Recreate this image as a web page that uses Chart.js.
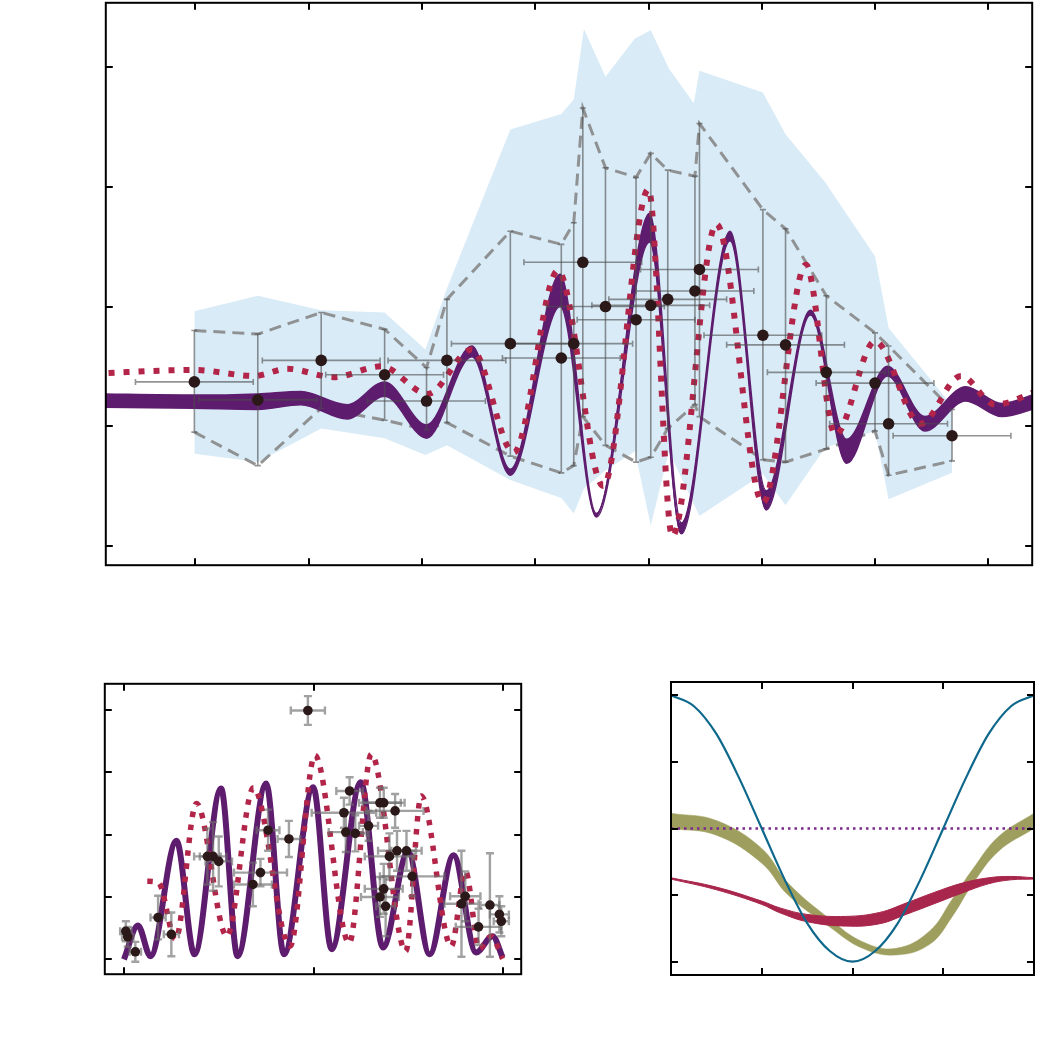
<!DOCTYPE html>
<html>
<head>
<meta charset="utf-8">
<script src="https://cdn.jsdelivr.net/npm/chart.js@4.4.1/dist/chart.umd.min.js"></script>
<style>
body { margin: 0; background: #fff; width: 1043px; height: 1062px; position: relative; overflow: hidden; }
canvas { position: absolute; }
</style>
</head>
<body>
<canvas id="topChart" width="938" height="574" style="left:100px;top:-3px"></canvas>
<canvas id="leftChart" width="426" height="300" style="left:100px;top:679px"></canvas>
<canvas id="rightChart" width="371" height="301" style="left:667px;top:678px"></canvas>
<script>
// ---------- top panel ----------
const topXTicks = [1, 2, 3, 4, 5, 6, 7, 8];
const topYTicks = [0, 1, 2, 3, 4];

// measured points, their x error and the lower/upper ends of the vertical bars
const obsX  = [0.99, 1.55, 2.11, 2.67, 3.04, 3.22, 3.78, 4.23, 4.34, 4.42, 4.62, 4.89, 5.02, 5.17, 5.41, 5.45, 6.01, 6.21, 6.57, 7.00, 7.12, 7.68];
const obsY  = [1.37, 1.22, 1.55, 1.43, 1.21, 1.55, 1.69, 1.57, 1.69, 2.37, 2.00, 1.89, 2.01, 2.06, 2.13, 2.31, 1.76, 1.68, 1.45, 1.36, 1.02, 0.92];
const obsHi = [1.80, 1.77, 1.95, 1.81, 1.49, 2.06, 2.63, 2.52, 2.70, 3.66, 3.16, 3.08, 3.28, 3.14, 3.09, 3.53, 2.81, 2.65, 2.09, 1.78, 1.67, 1.14];
const obsLo = [0.95, 0.67, 1.15, 1.05, 0.97, 1.03, 0.75, 0.61, 0.67, 1.08, 0.84, 0.70, 0.74, 0.98, 1.18, 1.08, 0.72, 0.70, 0.81, 0.96, 0.59, 0.71];
const obsXErr = 0.52;

// light blue envelope
const bandX  = [0.99, 1.55, 2.11, 2.67, 3.03, 3.22, 3.78, 4.23, 4.34, 4.43, 4.62, 4.88, 5.02, 5.18, 5.40, 5.45, 6.01, 6.21, 6.56, 7.00, 7.12, 7.68];
const bandHi = [1.96, 2.09, 1.97, 1.95, 1.64, 2.15, 3.48, 3.61, 3.73, 4.32, 3.92, 4.24, 4.31, 3.99, 3.70, 3.97, 3.79, 3.44, 3.04, 2.42, 1.82, 1.17];
const bandLo = [0.77, 0.70, 0.98, 0.90, 0.76, 0.84, 0.55, 0.40, 0.27, 0.48, 0.63, 0.79, 0.17, 0.79, 0.35, 0.25, 0.60, 0.34, 0.82, 0.96, 0.39, 0.61];

// purple model band
const fitX  = [0.10, 0.99, 1.55, 1.93, 2.34, 2.67, 3.04, 3.44, 3.78, 4.22, 4.54, 5.01, 5.29, 5.72, 6.04, 6.43, 6.75, 7.11, 7.44, 7.80, 8.12, 8.45];
const fitHi = [1.27, 1.26, 1.27, 1.29, 1.18, 1.37, 1.01, 1.67, 0.64, 2.27, 0.27, 2.78, 0.19, 2.63, 0.46, 1.97, 0.89, 1.50, 1.08, 1.33, 1.19, 1.28];
const fitLo = [1.16, 1.15, 1.14, 1.18, 1.06, 1.25, 0.90, 1.58, 0.59, 2.00, 0.24, 2.54, 0.10, 2.55, 0.30, 1.93, 0.69, 1.42, 0.96, 1.21, 1.08, 1.16];

// red dotted model
const altX = [0.10, 0.99, 1.52, 1.81, 2.22, 2.64, 3.05, 3.44, 3.81, 4.20, 4.60, 5.00, 5.21, 5.60, 6.01, 6.39, 6.65, 7.00, 7.40, 7.76, 8.06, 8.45];
const altY = [1.44, 1.47, 1.42, 1.48, 1.41, 1.50, 1.27, 1.64, 0.78, 2.30, 0.50, 2.98, 0.08, 2.69, 0.36, 2.35, 0.93, 1.71, 1.02, 1.42, 1.18, 1.30];

// ---------- bottom left panel ----------
const lowXTicks = [0, 1, 2];
const lowYTicks = [0, 1, 2, 3, 4];
const lowX    = [0.01, 0.02, 0.06, 0.18, 0.25, 0.44, 0.47, 0.50, 0.68, 0.72, 0.76, 0.87, 0.97, 1.16, 1.17, 1.19, 1.22, 1.29, 1.35, 1.37, 1.43, 1.40, 1.44, 1.49, 1.52, 1.37, 1.35, 1.38, 1.78, 1.80, 1.87, 1.93, 1.98, 1.99];
const lowY    = [0.45, 0.36, 0.12, 0.67, 0.40, 1.65, 1.65, 1.57, 1.20, 1.39, 2.07, 1.93, 3.99, 2.35, 2.04, 2.70, 2.02, 2.14, 2.51, 2.51, 2.38, 1.65, 1.74, 1.74, 1.33, 1.13, 1.00, 0.85, 0.89, 1.01, 0.52, 0.87, 0.72, 0.61];
const lowXErr = [0.03, 0.03, 0.03, 0.04, 0.04, 0.07, 0.07, 0.07, 0.10, 0.14, 0.06, 0.06, 0.09, 0.17, 0.09, 0.07, 0.06, 0.05, 0.11, 0.11, 0.15, 0.13, 0.10, 0.08, 0.17, 0.10, 0.10, 0.05, 0.09, 0.08, 0.12, 0.05, 0.05, 0.04];
const lowYErr = [0.16, 0.16, 0.16, 0.35, 0.35, 0.45, 0.55, 0.40, 0.35, 0.22, 0.33, 0.29, 0.23, 0.24, 0.32, 0.22, 0.29, 0.24, 0.24, 0.24, 0.27, 0.37, 0.32, 0.32, 0.32, 0.40, 0.32, 0.48, 0.85, 0.40, 0.29, 0.83, 0.29, 0.24];
const lowFitX = [0.00, 0.074, 0.14, 0.277, 0.372, 0.512, 0.599, 0.75, 0.844, 0.998, 1.095, 1.249, 1.366, 1.498, 1.612, 1.738, 1.857, 1.944, 1.997];
const lowFitY = [0.00, 0.54, 0.05, 1.90, 0.08, 2.74, 0.05, 2.82, 0.08, 2.76, 0.16, 2.84, 0.19, 1.73, 0.08, 1.67, 0.11, 0.37, 0.03];
const lowAltX = [0.123, 0.182, 0.272, 0.382, 0.543, 0.683, 0.876, 1.007, 1.188, 1.305, 1.486, 1.568, 1.726, 1.801, 1.874, 1.936, 1.997];
const lowAltY = [1.25, 1.23, 0.32, 2.50, 0.37, 2.75, 0.21, 3.27, 0.26, 3.29, 0.13, 2.62, 0.21, 1.41, 0.17, 0.37, 0.01];

// ---------- bottom right panel ----------
const rXTicks = [1, 2, 3];
const rYTicks = [-1, -0.5, 0, 0.5, 1];
const waveX = [0, 0.25, 0.5, 0.75, 1, 1.25, 1.5, 1.75, 2, 2.25, 2.5, 2.75, 3, 3.25, 3.5, 3.75, 4];
const waveY = [1.00, 0.92, 0.71, 0.38, 0.00, -0.38, -0.71, -0.92, -1.00, -0.92, -0.71, -0.38, 0.00, 0.38, 0.71, 0.92, 1.00];
const oliveX  = [0, 0.5, 1.0, 1.29, 1.75, 2.11, 2.48, 2.85, 3.10, 3.32, 3.61, 4.0];
const oliveHi = [0.115, 0.06, -0.15, -0.41, -0.68, -0.85, -0.90, -0.77, -0.53, -0.31, -0.06, 0.115];
const oliveLo = [0.0, -0.05, -0.26, -0.50, -0.74, -0.90, -0.95, -0.87, -0.66, -0.42, -0.17, 0.0];
const roseX  = [0, 0.5, 1.0, 1.2, 1.5, 1.93, 2.3, 2.59, 2.9, 3.21, 3.5, 3.75, 4.0];
const roseHi = [-0.37, -0.44, -0.545, -0.596, -0.645, -0.66, -0.63, -0.56, -0.48, -0.41, -0.37, -0.36, -0.37];
const roseLo = [-0.38, -0.46, -0.57, -0.633, -0.70, -0.733, -0.715, -0.645, -0.565, -0.484, -0.415, -0.385, -0.38];
const levelX = [0, 4];
const levelY = [0, 0];

const PURPLE = 'rgb(94,28,110)';
const RED = 'rgb(178,36,72)';
const DOT = 'rgb(43,24,24)';

function pts(xs, ys) {
    return xs.map((x, i) => ({ x: x, y: ys[i] }));
}

function curve(xs, ys, opts) {
    return Object.assign({
        type: 'line',
        data: pts(xs, ys),
        pointRadius: 0,
        fill: false,
        cubicInterpolationMode: 'monotone',
        clip: 0
    }, opts);
}

// smooth spline (not monotone) for the slow bands of the right panel
function smooth(xs, ys, opts) {
    return Object.assign({
        type: 'line',
        data: pts(xs, ys),
        pointRadius: 0,
        fill: false,
        tension: 0.4,
        clip: 0
    }, opts);
}

function straight(xs, ys, opts) {
    return Object.assign({
        type: 'line',
        data: pts(xs, ys),
        pointRadius: 0,
        fill: false,
        tension: 0,
        clip: 0
    }, opts);
}

// error bars, drawn right before the dataset that carries them
const errorBars = {
    id: 'errorBars',
    beforeDatasetDraw(chart, args) {
        const ds = chart.data.datasets[args.index];
        const e = ds.errors;
        if (!e) return;
        const ctx = chart.ctx;
        const xs = chart.scales.x, ys = chart.scales.y;
        ctx.save();
        ctx.strokeStyle = e.color;
        ctx.lineWidth = e.width;
        ds.data.forEach((p, i) => {
            const px = xs.getPixelForValue(p.x), py = ys.getPixelForValue(p.y);
            const x0 = xs.getPixelForValue(p.x - e.xerr[i]);
            const x1 = xs.getPixelForValue(p.x + e.xerr[i]);
            const y0 = ys.getPixelForValue(e.lo[i]);
            const y1 = ys.getPixelForValue(e.hi[i]);
            const c = e.cap;
            ctx.beginPath();
            ctx.moveTo(x0, py); ctx.lineTo(x1, py);
            ctx.moveTo(x0, py - c); ctx.lineTo(x0, py + c);
            ctx.moveTo(x1, py - c); ctx.lineTo(x1, py + c);
            ctx.moveTo(px, y0); ctx.lineTo(px, y1);
            ctx.moveTo(px - c, y0); ctx.lineTo(px + c, y0);
            ctx.moveTo(px - c, y1); ctx.lineTo(px + c, y1);
            ctx.stroke();
        });
        ctx.restore();
    }
};

// box and inward ticks on all four sides
const frame = {
    id: 'frame',
    afterDraw(chart, args, opts) {
        const ctx = chart.ctx, a = chart.chartArea;
        const xs = chart.scales.x, ys = chart.scales.y;
        const len = opts.len || 7;
        ctx.save();
        ctx.strokeStyle = '#000';
        ctx.lineWidth = 2;
        ctx.beginPath();
        opts.xTicks.forEach(v => {
            const px = Math.round(xs.getPixelForValue(v));
            ctx.moveTo(px, a.bottom); ctx.lineTo(px, a.bottom - len);
            ctx.moveTo(px, a.top); ctx.lineTo(px, a.top + len);
        });
        opts.yTicks.forEach(v => {
            const py = Math.round(ys.getPixelForValue(v));
            ctx.moveTo(a.left, py); ctx.lineTo(a.left + len, py);
            ctx.moveTo(a.right, py); ctx.lineTo(a.right - len, py);
        });
        ctx.stroke();
        ctx.strokeRect(a.left, a.top, a.right - a.left, a.bottom - a.top);
        ctx.restore();
    }
};

function makeChart(id, xMin, xMax, yMin, yMax, xTicks, yTicks, datasets) {
    return new Chart(document.getElementById(id), {
        type: 'line',
        data: { datasets: datasets },
        options: {
            responsive: false,
            animation: false,
            devicePixelRatio: 1,
            layout: { padding: 4 },
            scales: {
                x: { type: 'linear', min: xMin, max: xMax, display: false },
                y: { type: 'linear', min: yMin, max: yMax, display: false }
            },
            plugins: {
                legend: { display: false },
                tooltip: { enabled: false },
                frame: { xTicks: xTicks, yTicks: yTicks, len: 7 }
            }
        },
        plugins: [errorBars, frame]
    });
}

// top panel
makeChart('topChart', 0.208, 8.388, -0.162, 4.539, topXTicks, topYTicks, [
    straight(bandX, bandHi, { borderWidth: 0, order: 6 }),
    straight(bandX, bandLo, { borderWidth: 0, order: 6, fill: '-1', backgroundColor: 'rgb(216,235,247)' }),
    straight(obsX, obsHi, { borderColor: 'rgba(135,135,135,0.9)', borderWidth: 3, borderDash: [12, 7], order: 5 }),
    straight(obsX, obsLo, { borderColor: 'rgba(135,135,135,0.9)', borderWidth: 3, borderDash: [12, 7], order: 5 }),
    curve(fitX, fitHi, { borderColor: PURPLE, borderWidth: 1.5, order: 4 }),
    curve(fitX, fitLo, { borderColor: PURPLE, borderWidth: 1.5, order: 4, fill: '-1', backgroundColor: PURPLE }),
    curve(altX, altY, { borderColor: RED, borderWidth: 6, borderDash: [6, 9], borderCapStyle: 'butt', order: 3 }),
    {
        type: 'line',
        data: pts(obsX, obsY),
        showLine: false,
        pointRadius: 5.8,
        pointBackgroundColor: DOT,
        pointBorderWidth: 0,
        order: 1,
        errors: { xerr: obsX.map(() => obsXErr), lo: obsLo, hi: obsHi, color: 'rgba(75,75,75,0.6)', width: 1.6, cap: 3 }
    }
]);

// bottom left panel
makeChart('leftChart', -0.101, 2.095, -0.239, 4.418, lowXTicks, lowYTicks, [
    curve(lowFitX, lowFitY, { borderColor: PURPLE, borderWidth: 6, order: 4 }),
    curve(lowAltX, lowAltY, { borderColor: RED, borderWidth: 5.5, borderDash: [5.5, 7.5], borderCapStyle: 'butt', order: 3 }),
    {
        type: 'line',
        data: pts(lowX, lowY),
        showLine: false,
        pointRadius: 4.8,
        pointBackgroundColor: DOT,
        pointBorderWidth: 0,
        order: 1,
        errors: {
            xerr: lowXErr,
            lo: lowY.map((y, i) => y - lowYErr[i]),
            hi: lowY.map((y, i) => y + lowYErr[i]),
            color: 'rgba(110,110,110,0.65)', width: 2.4, cap: 4
        }
    }
]);

// bottom right panel
makeChart('rightChart', 0, 4, -1.1, 1.1, rXTicks, rYTicks, [
    smooth(oliveX, oliveHi, { borderColor: 'rgb(158,158,94)', borderWidth: 0.5, order: 5 }),
    smooth(oliveX, oliveLo, { borderColor: 'rgb(158,158,94)', borderWidth: 0.5, order: 5, fill: '-1', backgroundColor: 'rgb(158,158,94)' }),
    smooth(roseX, roseHi, { borderColor: 'rgb(168,37,75)', borderWidth: 1, order: 4 }),
    smooth(roseX, roseLo, { borderColor: 'rgb(168,37,75)', borderWidth: 1, order: 4, fill: '-1', backgroundColor: 'rgb(168,37,75)' }),
    straight(levelX, levelY, { borderColor: 'rgb(125,40,140)', borderWidth: 2.5, borderDash: [2.5, 4], order: 2 }),
    curve(waveX, waveY, { borderColor: 'rgb(14,104,140)', borderWidth: 2.2, order: 1 })
]);
</script>
</body>
</html>
